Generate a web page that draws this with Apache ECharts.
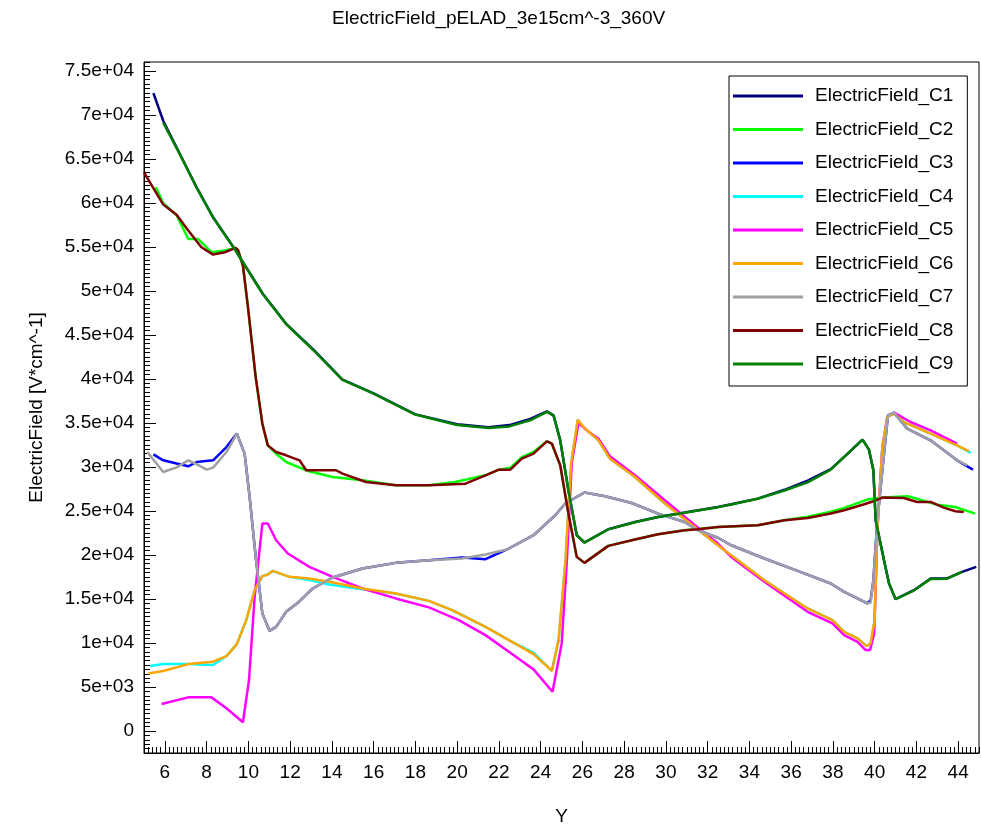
<!DOCTYPE html>
<html>
<head>
<meta charset="utf-8">
<script src="https://cdn.jsdelivr.net/npm/echarts@6/dist/echarts.min.js"></script>
<style>
  html, body { margin: 0; padding: 0; background: #fff; }
  #chart { width: 981px; height: 826px; }
</style>
</head>
<body>
<div id="chart"></div>
<script>
const chartTitle = 'ElectricField_pELAD_3e15cm^-3_360V';
const xName = 'Y';
const yName = 'ElectricField [V*cm^-1]';
const seriesNames = ['ElectricField_C1','ElectricField_C2','ElectricField_C3','ElectricField_C4','ElectricField_C5','ElectricField_C6','ElectricField_C7','ElectricField_C8','ElectricField_C9'];
const seriesColors = ['#000080','#00ff00','#0000ff','#00ffff','#ff00ff','#ffa500','#a0a0a4','#800000','#008000'];
const xTicks = [6,8,10,12,14,16,18,20,22,24,26,28,30,32,34,36,38,40,42,44];
const yTicks = [0,5000,10000,15000,20000,25000,30000,35000,40000,45000,50000,55000,60000,65000,70000,75000];

const C1 = [[5.45,72470],[5.92,69330],[6.72,65550],[7.52,61760],[8.31,58360],[9.34,54770],[10.69,49670],[11.81,46260],[13.08,43420],[14.51,39910],[16,38350],[18,35970],[20,34840],[21.5,34500],[22.5,34750],[23.5,35450],[24.3,36310],[24.62,35860],[24.94,33020],[25.33,27350],[25.73,22240],[26.1,21410],[27.24,22920],[28.52,23750],[29.63,24320],[30.9,24820],[32.49,25450],[33.13,25760],[34.4,26400],[35.68,27400],[36.79,28450],[37.9,29750],[38.62,31320],[39.42,33100],[39.73,31960],[39.94,29620],[40.05,23940],[40.45,19400],[40.69,16760],[41.0,14980],[41.88,16000],[42.68,17330],[43.47,17330],[44.19,18080],[44.87,18640]];
const C2 = [[5.57,61760],[5.92,59950],[6.56,58600],[7.12,55900],[7.59,55900],[8.23,54390],[8.87,54580],[9.36,54880],[9.5,54650],[9.74,52880],[9.98,48150],[10.35,40200],[10.67,34910],[10.93,32450],[11.33,31500],[11.81,30560],[12.9,29500],[14.04,28860],[15.47,28480],[17.06,27910],[18.65,27910],[19.9,28290],[21.36,29050],[22.0,29690],[22.55,29900],[23.1,31100],[23.66,31700],[24.3,32910],[24.54,32640],[24.94,30180],[25.33,24700],[25.73,19780],[26.1,19100],[27.24,21030],[28.52,21750],[29.63,22350],[30.9,22810],[32.49,23180],[34.4,23370],[35.68,23940],[36.79,24350],[37.9,24900],[38.54,25350],[39.65,26290],[40.37,26520],[41.59,26670],[42.3,26200],[43.0,25700],[43.86,25450],[44.82,24700]];
const C3 = [[5.45,31430],[5.92,30750],[6.56,30380],[7.12,30070],[7.52,30560],[8.31,30750],[8.95,32260],[9.45,33780],[9.82,31510],[10.06,26590],[10.35,19780],[10.67,13360],[11.01,11380],[11.33,11830],[11.81,13540],[12.37,14560],[13.08,16190],[14.04,17440],[15.47,18460],[17.06,19100],[18.65,19400],[20.24,19710],[21.36,19520],[22.39,20620],[23.66,22240],[24.7,24510],[25.18,25840],[26.1,27090],[27.09,26670],[28.36,25900],[29.63,24700],[30.9,23750],[31.54,22810],[32.49,21950],[33.13,21100],[34.72,19600],[36.31,18190],[37.9,16760],[38.54,15810],[39.18,15060],[39.65,14490],[39.81,14870],[39.94,17130],[40.13,23940],[40.45,31510],[40.64,35860],[40.93,36160],[41.56,34350],[42.68,33020],[43.95,30750],[44.71,29690]];
const C4 = [[5.29,7380],[5.92,7600],[7.12,7600],[8.31,7490],[8.95,8510],[9.45,9870],[9.9,12600],[10.3,16000],[10.67,17590],[10.93,17780],[11.17,18190],[11.97,17510],[12.92,17150],[13.88,16650],[15.47,16100],[17.06,15620],[18.65,14780],[19.76,13730],[21.36,11830],[22.63,10130],[23.66,8900],[24.54,6840],[24.86,10330],[25.18,19030],[25.46,30380],[25.78,35370],[26.05,34530],[26.77,33020],[27.32,30940],[28.52,28860],[29.95,25840],[31.38,23180],[32.49,21100],[33.13,19970],[34.72,17130],[36.79,13920],[37.98,12600],[38.54,11270],[39.18,10520],[39.62,9640],[39.81,9980],[40.0,12600],[40.13,22810],[40.37,32260],[40.61,35670],[40.93,36050],[41.4,35100],[42.68,33780],[43.95,32450],[44.6,31600]];
const C5 = [[5.84,3060],[7.12,3820],[8.23,3820],[8.95,2580],[9.74,990],[10.03,5790],[10.3,15240],[10.67,23570],[10.93,23570],[11.33,21670],[11.89,20160],[12.92,18640],[14.04,17510],[15.47,16190],[17.06,15060],[18.65,14040],[20.08,12600],[21.36,10890],[22.63,8740],[23.66,7000],[24.57,4460],[25.01,9950],[25.25,19030],[25.49,30380],[25.81,34980],[26.3,34000],[26.77,33200],[27.32,31200],[28.52,29050],[29.95,26210],[31.38,23400],[32.49,21290],[33.13,19780],[34.72,16950],[36.79,13540],[37.98,12220],[38.54,10890],[39.18,10130],[39.57,9190],[39.78,9190],[39.98,11080],[40.13,22810],[40.37,32260],[40.61,35670],[40.93,36160],[41.72,35100],[42.68,34150],[43.95,32640]];
const C6 = [[5.21,6540],[5.92,6810],[7.12,7600],[8.31,7870],[8.95,8510],[9.45,9870],[9.9,12600],[10.3,16000],[10.67,17590],[10.93,17780],[11.17,18190],[11.97,17510],[12.92,17330],[13.88,16950],[15.47,16190],[17.06,15620],[18.65,14780],[19.76,13730],[21.36,11830],[22.63,10130],[23.66,8740],[24.54,6840],[24.86,10330],[25.18,19030],[25.46,30380],[25.78,35370],[26.05,34530],[26.77,33020],[27.32,30940],[28.52,28860],[29.95,25840],[31.38,23180],[32.49,21100],[33.13,19970],[34.72,17130],[36.79,13920],[37.98,12600],[38.54,11270],[39.18,10520],[39.62,9640],[39.81,9980],[40.0,12600],[40.13,22810],[40.37,32260],[40.61,35670],[40.93,36050],[41.4,35100],[42.68,33780],[43.95,32450],[44.51,31800]];
const C7 = [[5.16,31690],[5.92,29420],[6.56,29950],[7.12,30750],[7.52,30310],[8.0,29690],[8.31,29920],[8.95,31690],[9.45,33780],[9.82,31510],[10.06,26590],[10.35,19780],[10.67,13360],[11.01,11380],[11.33,11830],[11.81,13540],[12.37,14560],[13.08,16190],[14.04,17440],[15.47,18460],[17.06,19100],[18.65,19400],[20.24,19600],[21.36,20050],[22.39,20620],[23.66,22240],[24.7,24510],[25.18,25840],[26.1,27090],[27.09,26670],[28.36,25900],[29.63,24700],[30.9,23750],[31.54,22810],[32.49,21950],[33.13,21100],[34.72,19600],[36.31,18190],[37.9,16760],[38.54,15810],[39.18,15060],[39.65,14490],[39.81,14600],[39.94,17130],[40.13,23940],[40.45,31510],[40.64,35860],[40.93,36160],[41.56,34350],[42.68,33020],[43.95,30750],[44.45,30180]];
const C8 = [[5.0,63470],[5.92,59800],[6.56,58660],[7.12,56850],[7.75,54950],[8.31,54120],[8.87,54390],[9.39,54880],[9.5,54650],[9.74,52880],[9.98,48150],[10.35,40200],[10.67,34910],[10.93,32450],[11.33,31690],[11.81,31320],[12.45,30750],[12.77,29620],[14.2,29620],[14.51,29240],[15.63,28290],[17.06,27910],[18.65,27910],[20.4,28100],[21.36,29050],[22.0,29690],[22.55,29690],[23.1,30940],[23.66,31510],[24.3,32910],[24.54,32640],[24.94,30180],[25.33,24700],[25.73,19780],[26.1,19100],[27.24,21030],[28.52,21750],[29.63,22350],[30.9,22810],[31.54,22920],[32.49,23180],[34.4,23370],[35.68,23940],[36.79,24200],[37.9,24700],[38.54,25080],[39.5,25760],[39.98,26130],[40.37,26520],[41.4,26470],[42.04,26020],[42.68,26020],[43.31,25380],[43.87,24960],[44.27,24880]];
const C9 = [[5.92,69100],[6.72,65500],[7.52,61740],[8.31,58340],[9.34,54760],[10.69,49640],[11.81,46220],[13.08,43340],[14.51,39880],[16,38330],[18,35950],[20,34760],[21.5,34420],[22.5,34600],[23.5,35300],[24.3,36250],[24.62,35820],[24.94,33020],[25.33,27350],[25.73,22240],[26.1,21410],[27.24,22900],[28.52,23720],[29.63,24300],[30.9,24800],[32.49,25430],[33.13,25740],[34.4,26380],[35.68,27320],[36.79,28250],[37.9,29690],[38.62,31320],[39.42,33100],[39.73,31960],[39.94,29620],[40.05,23940],[40.45,19400],[40.69,16760],[41.0,14980],[41.88,15950],[42.68,17280],[43.47,17300],[44.19,18080]];
const seriesData = [C1, C2, C3, C4, C5, C6, C7, C8, C9];

const xMinor = []; for (let v = 5; v <= 45.001; v += 0.2) xMinor.push(Math.round(v * 10) / 10);
const yMinor = []; for (let v = -2500; v <= 76000; v += 500) yMinor.push(v);

const FONT = 'Liberation Sans';
const FS = 19;

function sci(v) {
  if (v === 0) return '0';
  const s = v.toExponential();
  const m = s.split('e');
  let exp = parseInt(m[1], 10);
  const sign = exp < 0 ? '-' : '+';
  exp = Math.abs(exp);
  return m[0] + 'e' + sign + (exp < 10 ? '0' + exp : String(exp));
}

const chart = echarts.init(document.getElementById('chart'), null, { renderer: 'canvas' });
chart.setOption({
  animation: false,
  backgroundColor: '#ffffff',
  textStyle: { fontFamily: FONT },
  title: {
    text: chartTitle, left: 332, top: 9, padding: 0,
    textStyle: { fontFamily: FONT, fontSize: FS, fontWeight: 'normal', color: '#000' }
  },
  legend: {
    orient: 'vertical', left: 729, top: 76,
    padding: [10, 14, 12, 4],
    itemGap: 13.5, itemWidth: 70, itemHeight: 3, icon: 'rect',
    borderColor: '#000', borderWidth: 1, backgroundColor: '#fff',
    textStyle: { fontFamily: FONT, fontSize: FS, color: '#000', lineHeight: 20, padding: [0, 0, 0, 7] },
    data: seriesNames
  },
  grid: { left: 144, right: 2, top: 62, bottom: 73, show: true, borderColor: '#000', borderWidth: 1, backgroundColor: 'transparent', containLabel: false, outerBoundsMode: 'none' },
  xAxis: [{
    type: 'value', min: 5, max: 45,
    name: xName, nameLocation: 'middle', nameGap: 54,
    nameTextStyle: { fontFamily: FONT, fontSize: FS, color: '#000' },
    axisLine: { show: true, onZero: false, lineStyle: { color: '#000', width: 1 } },
    axisTick: { show: true, inside: true, length: 12, customValues: xTicks, lineStyle: { color: '#000', width: 1 } },
    axisLabel: { show: true, customValues: xTicks, margin: 10, fontFamily: FONT, fontSize: FS, color: '#000' },
    splitLine: { show: false }
  }, {
    type: 'value', min: 5, max: 45, position: 'bottom',
    axisLine: { show: false, onZero: false },
    axisTick: { show: true, inside: true, length: 6, customValues: xMinor, lineStyle: { color: '#000', width: 1 } },
    axisLabel: { show: false },
    splitLine: { show: false }
  }],
  yAxis: [{
    type: 'value', min: -2500, max: 76000,
    name: yName, nameLocation: 'middle', nameGap: 98,
    nameTextStyle: { fontFamily: FONT, fontSize: FS, color: '#000' },
    axisLine: { show: true, onZero: false, lineStyle: { color: '#000', width: 1 } },
    axisTick: { show: true, inside: true, length: 12, customValues: yTicks, lineStyle: { color: '#000', width: 1 } },
    axisLabel: { show: true, customValues: yTicks, margin: 10, fontFamily: FONT, fontSize: FS, color: '#000', formatter: sci },
    splitLine: { show: false }
  }, {
    type: 'value', min: -2500, max: 76000, position: 'left',
    axisLine: { show: false, onZero: false },
    axisTick: { show: true, inside: true, length: 6, customValues: yMinor, lineStyle: { color: '#000', width: 1 } },
    axisLabel: { show: false },
    splitLine: { show: false }
  }],
  series: seriesNames.map((n, i) => ({
    name: n, type: 'line', xAxisIndex: 0, yAxisIndex: 0,
    data: seriesData[i], showSymbol: false, symbol: 'none',
    color: seriesColors[i],
    lineStyle: { color: seriesColors[i], width: 2.5 },
    itemStyle: { color: seriesColors[i] },
    z: 2 + i * 0.01
  }))
});
</script>
</body>
</html>
